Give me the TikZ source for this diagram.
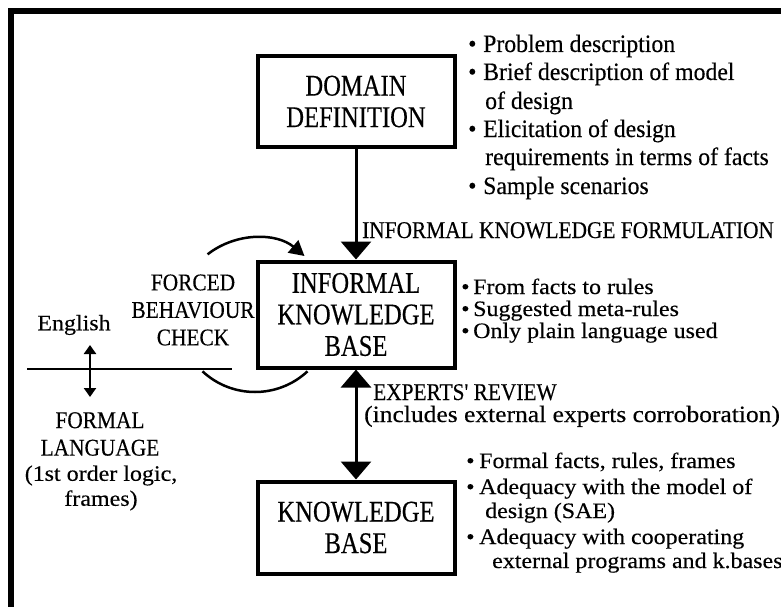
\documentclass[tikz,border=0pt]{standalone}
\usepackage{fontspec}
\setmainfont{Liberation Serif}
\newfontfamily\boxfam[FakeStretch=0.82, FakeBold=0.3]{Liberation Serif}
\newfontfamily\capfam[FakeStretch=0.89, FakeBold=0.3]{Liberation Serif}
\newfontfamily\topfam[FakeStretch=0.95, FakeBold=0.3]{Liberation Serif}
\newfontfamily\lowfam[FakeStretch=1.09, FakeBold=0.3]{Liberation Serif}
\usetikzlibrary{arrows.meta}

\newcommand{\boxfont}{\boxfam\fontsize{30}{31.5}\selectfont}
\newcommand{\capfont}{\capfam\fontsize{24}{27.5}\selectfont}
\newcommand{\topfont}{\topfam\fontsize{25}{28.5}\selectfont}
\newcommand{\lowfont}{\lowfam\fontsize{22}{25}\selectfont}
\newcommand{\bul}[1][12pt]{\makebox[#1][l]{\textbullet}}

\tikzset{
  block/.style={draw, line width=4pt, minimum width=197pt, align=center, font=\boxfont, inner sep=0pt},
  caplabel/.style={font=\capfont, align=center, inner sep=0pt},
  topitem/.style={anchor=base west, inner sep=0pt, font=\topfont},
  lowitem/.style={anchor=base west, inner sep=0pt, font=\lowfont},
  bigtip/.tip={Triangle[width=30pt,length=18pt]},
  smalltip/.tip={Triangle[width=12pt,length=9pt]},
}

\begin{document}
\begin{tikzpicture}[x=1pt, y=-1pt]
\useasboundingbox (0,0) rectangle (781,607);
% frame (top and left edges only)
\draw [line width=6pt] (11,607) -- (11,11) -- (781,11);

% the three stages
\node[block, minimum height=90pt] (domain) at (356,101.5) {DOMAIN\\DEFINITION};
\node[block, minimum height=106pt] (ikb) at (356,314.5) {INFORMAL\\KNOWLEDGE\\BASE};
\node[block, minimum height=92pt] (kb) at (356,527.5) {KNOWLEDGE\\BASE};

\draw [line width=3pt, -bigtip] (domain) -- (ikb);
\draw [line width=3pt, bigtip-bigtip] (ikb) -- (kb);

\node[caplabel, anchor=base west] (formulation) at (362,238) {INFORMAL KNOWLEDGE FORMULATION};
\node[caplabel, anchor=base west] (review) at (373,400) {EXPERTS' REVIEW};
\node[lowitem, font=\lowfam\fontsize{23.4}{25}\selectfont] (corrob) at (364,422) {(includes external experts corroboration)};

% forced behaviour check loop
\coordinate (loopc) at (255,315);
\draw [line width=2.5pt, -{Triangle[width=16pt,length=15pt]}] (loopc) ++(232:77) arc[start angle=232, end angle=310, radius=77];
\draw [line width=2.5pt] (loopc) ++(133:77) arc[start angle=133, end angle=47, radius=77];
\node[caplabel] (check) at (193,310) {FORCED\\BEHAVIOUR\\CHECK};

% english / formal language
\coordinate (sepL) at (27,369);
\coordinate (sepR) at (232,369);
\draw [line width=2pt] (sepL) -- (sepR);
\node[font=\lowfont, inner sep=0pt] (english) at (74,325) {English};
\coordinate (langup) at (90,345);
\coordinate (langdown) at (90,397);
\draw [line width=2.5pt, smalltip-smalltip] (langup) -- (langdown);
\node[caplabel] (formal) at (100,434) {FORMAL\\LANGUAGE};
\node[font=\lowfont, align=center, inner sep=0pt] (logic) at (101,488) {(1st order logic,\\frames)};

% notes beside the boxes
\foreach \x/\y/\txt [count=\i] in {468/52/{\bul[15pt]Problem description},
    468/80/{\bul[15pt]Brief description of model}, 485/109/{of design},
    468/137/{\bul[15pt]Elicitation of design}, 485/165/{requirements in terms of facts},
    468/194/{\bul[15pt]Sample scenarios}} {
  \node[topitem] (domnote\i) at (\x,\y) {\txt};
}
\foreach \x/\y/\txt [count=\i] in {461/294/{\bul From facts to rules},
    461/316/{\bul Suggested meta-rules}, 461/338/{\bul Only plain language used}} {
  \node[lowitem] (ikbnote\i) at (\x,\y) {\txt};
}
\foreach \x/\y/\txt [count=\i] in {466/468/{\bul[13pt]Formal facts, rules, frames},
    466/494/{\bul[13pt]Adequacy with the model of}, 485/518/{design (SAE)},
    466/544/{\bul[13pt]Adequacy with cooperating}, 492/568/{external programs and k.bases}} {
  \node[lowitem] (kbnote\i) at (\x,\y) {\txt};
}
\end{tikzpicture}
\end{document}
